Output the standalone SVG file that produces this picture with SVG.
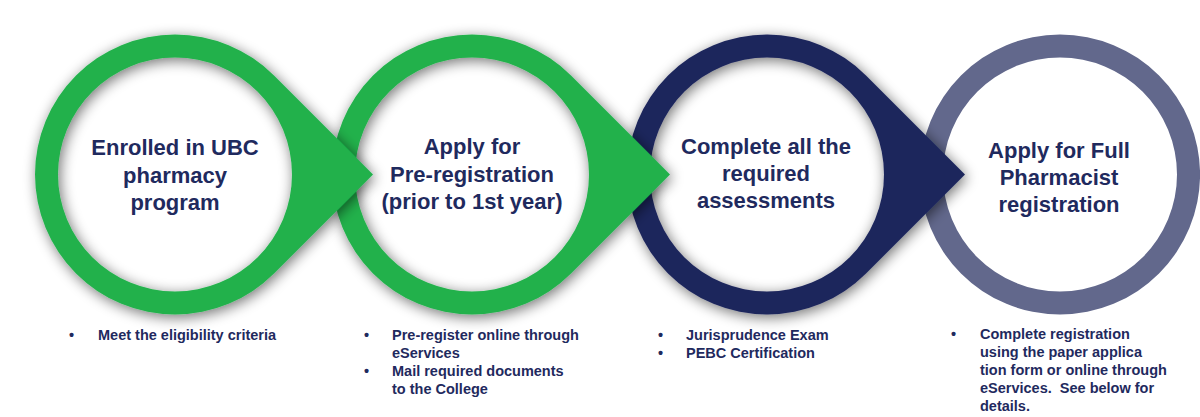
<svg xmlns="http://www.w3.org/2000/svg" width="1200" height="417" viewBox="0 0 1200 417">
<style>
.head{font-family:"Liberation Sans",Arial,sans-serif;font-weight:bold;font-size:22px;fill:#1f2a5e;text-anchor:middle}
.note{font-family:"Liberation Sans",Arial,sans-serif;font-weight:bold;font-size:14.5px;fill:#1f2a5e}
.green{fill:#22b14c}
.navy{fill:#1f275c}
.grey{fill:#62688c}
</style>
<defs>
<filter id="sh" x="-20%" y="-20%" width="140%" height="140%">
<feGaussianBlur in="SourceAlpha" stdDeviation="7"/>
<feOffset dx="2" dy="3" result="b"/>
<feComponentTransfer><feFuncA type="linear" slope="0.55"/></feComponentTransfer>
<feMerge><feMergeNode/><feMergeNode in="SourceGraphic"/></feMerge>
</filter>
</defs>
<rect width="1200" height="417" fill="#ffffff"/>
<g id="connectors"></g>
<g id="node4">
<path class="grey" fill-rule="evenodd" d="M1060,34.5 A140,140 0 1 1 1060,314.5 A140,140 0 1 1 1060,34.5 Z M1060,57.5 A117,117 0 1 0 1060,291.5 A117,117 0 1 0 1060,57.5 Z"/>
<text class="head" x="1059" y="158">Apply for Full</text>
<text class="head" x="1059" y="185">Pharmacist</text>
<text class="head" x="1059" y="212">registration</text>
</g>
<g id="node3">
<path class="navy" filter="url(#sh)" fill-rule="evenodd" d="M965,174.5 L866,75.5 A140,140 0 1 0 866,273.5 Z M767,57.5 A117,117 0 1 0 767,291.5 A117,117 0 1 0 767,57.5 Z"/>
<text class="head" x="766" y="154">Complete all the</text>
<text class="head" x="766" y="181">required</text>
<text class="head" x="766" y="208">assessments</text>
</g>
<g id="node2">
<path class="green" filter="url(#sh)" fill-rule="evenodd" d="M670,174.5 L571,75.5 A140,140 0 1 0 571,273.5 Z M472,57.5 A117,117 0 1 0 472,291.5 A117,117 0 1 0 472,57.5 Z"/>
<text class="head" x="472" y="154">Apply for</text>
<text class="head" x="472" y="182">Pre-registration</text>
<text class="head" x="472" y="209">(prior to 1st year)</text>
</g>
<g id="node1">
<path class="green" filter="url(#sh)" fill-rule="evenodd" d="M373,174.5 L274,75.5 A140,140 0 1 0 274,273.5 Z M175,57.5 A117,117 0 1 0 175,291.5 A117,117 0 1 0 175,57.5 Z"/>
<text class="head" x="175" y="155">Enrolled in UBC</text>
<text class="head" x="175" y="183">pharmacy</text>
<text class="head" x="175" y="210">program</text>
</g>
<g id="notes1">
<text class="note" x="69" y="340">•</text>
<text class="note" x="98" y="340">Meet the eligibility criteria</text>
</g>
<g id="notes2">
<text class="note" x="364" y="340">•</text>
<text class="note" x="392" y="340">Pre-register online through</text>
<text class="note" x="392" y="358">eServices</text>
<text class="note" x="364" y="376">•</text>
<text class="note" x="392" y="376">Mail required documents</text>
<text class="note" x="392" y="394">to the College</text>
</g>
<g id="notes3">
<text class="note" x="658" y="340">•</text>
<text class="note" x="686" y="340">Jurisprudence Exam</text>
<text class="note" x="658" y="358">•</text>
<text class="note" x="686" y="358">PEBC Certification</text>
</g>
<g id="notes4">
<text class="note" x="951" y="339">•</text>
<text class="note" x="980" y="339">Complete registration</text>
<text class="note" x="980" y="357">using the paper applica</text>
<text class="note" x="980" y="375">tion form or online through</text>
<text class="note" x="980" y="393">eServices.&#160; See below for</text>
<text class="note" x="980" y="411">details.</text>
</g>
</svg>
